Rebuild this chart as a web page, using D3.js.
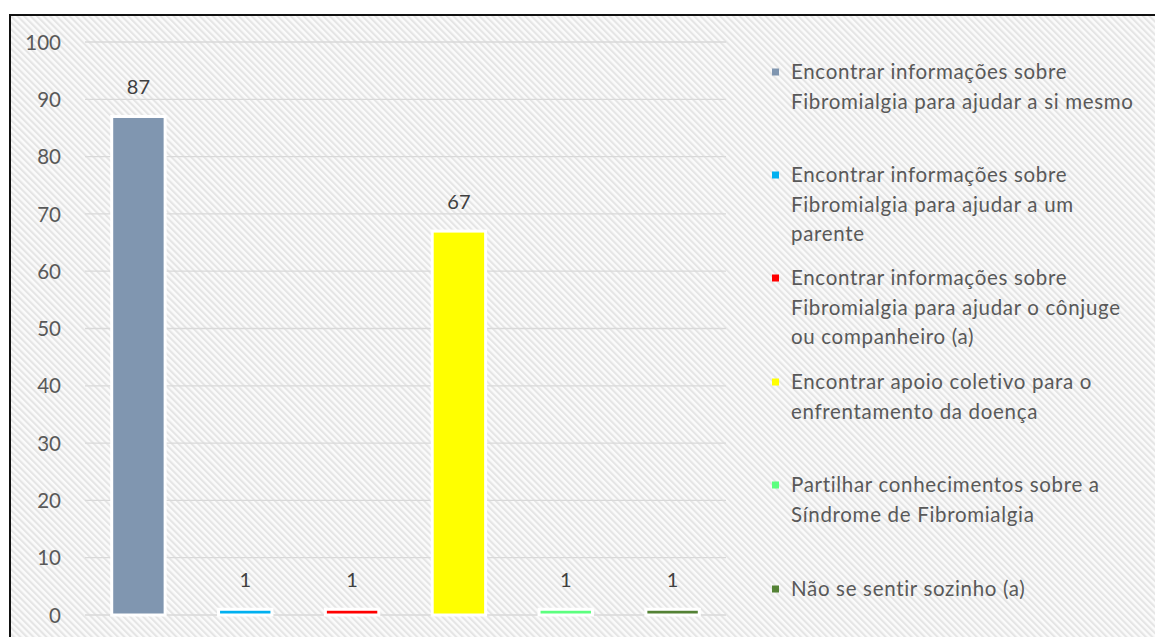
<!DOCTYPE html>
<html>
<head>
<meta charset="utf-8">
<script src="https://cdn.jsdelivr.net/npm/d3@7"></script>
<style>
  html, body { margin: 0; padding: 0; background: #fff; }
  svg { display: block; }
  text { font-family: Lato, "Open Sans", sans-serif; }
</style>
</head>
<body>
<svg id="chart" width="1155" height="637"></svg>
<script>
// ---- data ----
const categories = [
  "Encontrar informações sobre Fibromialgia para ajudar a si mesmo",
  "Encontrar informações sobre Fibromialgia para ajudar a um parente",
  "Encontrar informações sobre Fibromialgia para ajudar o cônjuge ou companheiro (a)",
  "Encontrar apoio coletivo para o enfrentamento da doença",
  "Partilhar conhecimentos sobre a Síndrome de Fibromialgia",
  "Não se sentir sozinho (a)"
];
const values = [87, 1, 1, 67, 1, 1];
const colors = ["#8096B0", "#00B0F0", "#FF0000", "#FFFF00", "#5CFF7F", "#548235"];
const legendLines = [
  ["Encontrar informações sobre", "Fibromialgia para ajudar a si mesmo"],
  ["Encontrar informações sobre", "Fibromialgia para ajudar a um", "parente"],
  ["Encontrar informações sobre", "Fibromialgia para ajudar o cônjuge", "ou companheiro (a)"],
  ["Encontrar apoio coletivo para o", "enfrentamento da doença"],
  ["Partilhar conhecimentos sobre a", "Síndrome de Fibromialgia"],
  ["Não se sentir sozinho (a)"]
];
const yTicks = [0, 10, 20, 30, 40, 50, 60, 70, 80, 90, 100];

// ---- layout ----
const W = 1155, H = 637;
const plot = { left: 85, right: 726, top: 42, bottom: 615 };
const legendTop = [72, 175, 278, 382, 485, 589];
const lineH = 29.5;

const svg = d3.select("#chart");
const defs = svg.append("defs");
const pat = defs.append("pattern")
  .attr("id", "hatch")
  .attr("patternUnits", "userSpaceOnUse")
  .attr("width", 4.6).attr("height", 4.6)
  .attr("patternTransform", "rotate(-45)");
pat.append("rect").attr("width", 4.6).attr("height", 4.6).attr("fill", "#fbfbfb");
pat.append("rect").attr("width", 2.1).attr("height", 4.6).attr("fill", "#e5e5e5");

// background & frame
svg.append("rect").attr("width", W).attr("height", H).attr("fill", "#fff");
svg.append("rect")
  .attr("x", 10).attr("y", 15).attr("width", W + 20).attr("height", H + 20)
  .attr("fill", "url(#hatch)")
  .attr("stroke", "#111").attr("stroke-width", 2);

const x = d3.scaleBand()
  .domain(categories)
  .range([plot.left, plot.right])
  .paddingInner(0.5)
  .paddingOuter(0.25);
const y = d3.scaleLinear().domain([0, 100]).range([plot.bottom, plot.top]);

// gridlines
svg.append("g").selectAll("line")
  .data(yTicks).join("line")
  .attr("x1", plot.left).attr("x2", plot.right)
  .attr("y1", d => y(d)).attr("y2", d => y(d))
  .attr("stroke", "#d9d9d9").attr("stroke-width", 1.3);

// y axis labels
const yAxis = d3.axisLeft(y).tickValues(yTicks).tickSize(0).tickPadding(0);
const gy = svg.append("g").attr("transform", "translate(61,0)").call(yAxis);
gy.select(".domain").remove();
gy.selectAll("text")
  .attr("font-family", "Lato, sans-serif")
  .attr("font-size", 20.5)
  .attr("fill", "#595959")
  .attr("dy", "0.35em");

// bars
svg.append("g").selectAll("rect")
  .data(values).join("rect")
  .attr("x", (d, i) => x(categories[i]))
  .attr("width", x.bandwidth())
  .attr("y", d => y(d))
  .attr("height", d => y(0) - y(d))
  .attr("fill", (d, i) => colors[i])
  .attr("stroke", "#fff")
  .attr("stroke-width", 3);

// data labels
svg.append("g").selectAll("text")
  .data(values).join("text")
  .attr("x", (d, i) => x(categories[i]) + x.bandwidth() / 2)
  .attr("y", d => y(d) - 29)
  .attr("dy", "0.35em")
  .attr("text-anchor", "middle")
  .attr("font-size", 20)
  .attr("fill", "#404040")
  .text(d => d);

// legend
const lg = svg.append("g");
legendLines.forEach((lines, i) => {
  lg.append("rect")
    .attr("x", 772).attr("y", legendTop[i] - 3.5)
    .attr("width", 7).attr("height", 7)
    .attr("fill", colors[i]);
  lines.forEach((t, j) => {
    lg.append("text")
      .attr("x", 791)
      .attr("y", legendTop[i] + j * lineH)
      .attr("dy", "0.35em")
      .attr("font-size", 20.5)
      .attr("fill", "#595959")
      .attr("class", "leg")
      .text(t);
  });
});
// widen letter spacing so the longest line spans like the reference (~342px)
const ref = lg.selectAll("text.leg").filter(function() {
  return this.textContent === "Fibromialgia para ajudar a si mesmo";
}).node();
const w0 = ref.getComputedTextLength();
const ls = (342 - w0) / (ref.textContent.length - 1);
lg.selectAll("text.leg").attr("letter-spacing", ls.toFixed(2) + "px");
</script>
</body>
</html>
